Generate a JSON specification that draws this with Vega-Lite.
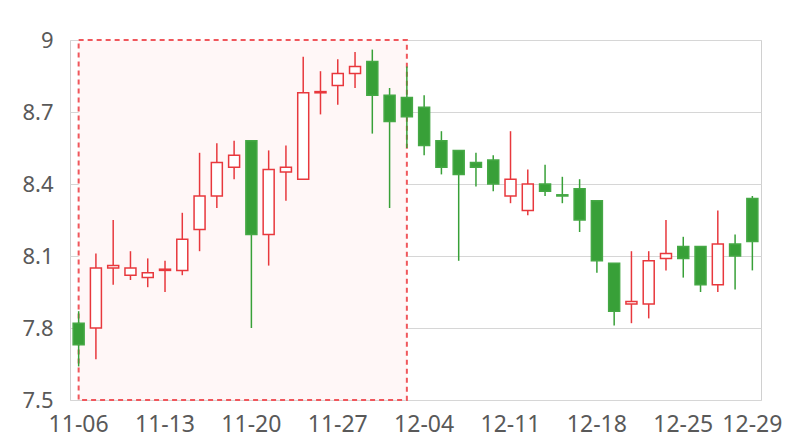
{
  "$schema": "https://vega.github.io/schema/vega-lite/v6.json",
  "autosize": {"type": "none"},
  "width": 691,
  "height": 360,
  "padding": {"left": 70, "top": 40, "right": 39, "bottom": 40},
  "background": "white",
  "config": {
    "view": {"stroke": "#d0d0d0", "strokeWidth": 1},
    "font": "Noto Sans",
    "axis": {"labelFont": "Noto Sans", "labelFontSize": 22, "labelColor": "#595959", "title": null, "ticks": false, "domain": false}
  },
  "datasets": {
    "candles": [
      {"date": "11-06", "open": 7.82, "close": 7.73, "high": 7.87, "low": 7.64},
      {"date": "11-07", "open": 7.80, "close": 8.05, "high": 8.11, "low": 7.67},
      {"date": "11-08", "open": 8.05, "close": 8.06, "high": 8.25, "low": 7.98},
      {"date": "11-09", "open": 8.02, "close": 8.05, "high": 8.12, "low": 8.00},
      {"date": "11-10", "open": 8.01, "close": 8.03, "high": 8.09, "low": 7.97},
      {"date": "11-13", "open": 8.04, "close": 8.045, "high": 8.08, "low": 7.95},
      {"date": "11-14", "open": 8.04, "close": 8.17, "high": 8.28, "low": 8.02},
      {"date": "11-15", "open": 8.21, "close": 8.35, "high": 8.53, "low": 8.12},
      {"date": "11-16", "open": 8.35, "close": 8.49, "high": 8.57, "low": 8.30},
      {"date": "11-17", "open": 8.47, "close": 8.52, "high": 8.58, "low": 8.42},
      {"date": "11-20", "open": 8.58, "close": 8.19, "high": 8.58, "low": 7.80},
      {"date": "11-21", "open": 8.19, "close": 8.46, "high": 8.54, "low": 8.06},
      {"date": "11-22", "open": 8.45, "close": 8.47, "high": 8.56, "low": 8.33},
      {"date": "11-23", "open": 8.42, "close": 8.78, "high": 8.93, "low": 8.42},
      {"date": "11-24", "open": 8.78, "close": 8.785, "high": 8.87, "low": 8.69},
      {"date": "11-27", "open": 8.81, "close": 8.86, "high": 8.92, "low": 8.73},
      {"date": "11-28", "open": 8.86, "close": 8.89, "high": 8.95, "low": 8.80},
      {"date": "11-29", "open": 8.91, "close": 8.77, "high": 8.96, "low": 8.61},
      {"date": "11-30", "open": 8.77, "close": 8.66, "high": 8.80, "low": 8.30},
      {"date": "12-01", "open": 8.76, "close": 8.68, "high": 8.89, "low": 8.55},
      {"date": "12-04", "open": 8.72, "close": 8.56, "high": 8.77, "low": 8.52},
      {"date": "12-05", "open": 8.58, "close": 8.47, "high": 8.62, "low": 8.44},
      {"date": "12-06", "open": 8.54, "close": 8.44, "high": 8.54, "low": 8.08},
      {"date": "12-07", "open": 8.49, "close": 8.47, "high": 8.53, "low": 8.39},
      {"date": "12-08", "open": 8.50, "close": 8.40, "high": 8.52, "low": 8.37},
      {"date": "12-11", "open": 8.35, "close": 8.42, "high": 8.62, "low": 8.32},
      {"date": "12-12", "open": 8.29, "close": 8.40, "high": 8.46, "low": 8.27},
      {"date": "12-13", "open": 8.40, "close": 8.37, "high": 8.48, "low": 8.35},
      {"date": "12-14", "open": 8.355, "close": 8.35, "high": 8.43, "low": 8.32},
      {"date": "12-15", "open": 8.38, "close": 8.25, "high": 8.42, "low": 8.20},
      {"date": "12-18", "open": 8.33, "close": 8.08, "high": 8.33, "low": 8.03},
      {"date": "12-19", "open": 8.07, "close": 7.87, "high": 8.07, "low": 7.81},
      {"date": "12-20", "open": 7.90, "close": 7.91, "high": 8.12, "low": 7.82},
      {"date": "12-21", "open": 7.90, "close": 8.08, "high": 8.12, "low": 7.84},
      {"date": "12-22", "open": 8.09, "close": 8.11, "high": 8.25, "low": 8.04},
      {"date": "12-25", "open": 8.14, "close": 8.09, "high": 8.18, "low": 8.01},
      {"date": "12-26", "open": 8.14, "close": 7.98, "high": 8.14, "low": 7.95},
      {"date": "12-27", "open": 7.98, "close": 8.15, "high": 8.29, "low": 7.95},
      {"date": "12-28", "open": 8.15, "close": 8.10, "high": 8.19, "low": 7.96},
      {"date": "12-29", "open": 8.34, "close": 8.16, "high": 8.35, "low": 8.04}
    ],
    "zone": [
      {"start": "11-06", "end": "12-01", "top": 9, "bottom": 7.5}
    ]
  },
  "data": {"name": "candles"},
  "encoding": {
    "x": {
      "field": "date",
      "type": "ordinal",
      "sort": null,
      "scale": {
        "type": "band",
        "paddingInner": 0,
        "paddingOuter": 0,
        "domain": ["11-06", "11-07", "11-08", "11-09", "11-10", "11-13", "11-14", "11-15", "11-16", "11-17", "11-20", "11-21", "11-22", "11-23", "11-24", "11-27", "11-28", "11-29", "11-30", "12-01", "12-04", "12-05", "12-06", "12-07", "12-08", "12-11", "12-12", "12-13", "12-14", "12-15", "12-18", "12-19", "12-20", "12-21", "12-22", "12-25", "12-26", "12-27", "12-28", "12-29"]
      },
      "axis": {
        "values": ["11-06", "11-13", "11-20", "11-27", "12-04", "12-11", "12-18", "12-25", "12-29"],
        "labelAngle": 0,
        "labelFontSize": 23,
        "labelPadding": 13,
        "grid": false
      }
    }
  },
  "layer": [
    {
      "data": {"name": "zone"},
      "mark": {"type": "rect", "fill": "#fff7f7", "stroke": "#f0575c", "strokeWidth": 2, "strokeDash": [5, 4]},
      "encoding": {
        "x": {"field": "start", "type": "ordinal", "bandPosition": 0.5},
        "x2": {"field": "end", "bandPosition": 0.5},
        "y": {"field": "top", "type": "quantitative"},
        "y2": {"field": "bottom"}
      }
    },
    {
      "mark": {"type": "rule", "strokeWidth": 1.5},
      "encoding": {
        "y": {
          "field": "low",
          "type": "quantitative",
          "scale": {"domain": [7.5, 9], "nice": false, "zero": false},
          "axis": {
            "values": [7.5, 7.8, 8.1, 8.4, 8.7, 9],
            "format": ".1~f",
            "labelPadding": 17,
            "grid": true,
            "gridColor": "#d6d6d6",
            "gridWidth": 1
          }
        },
        "y2": {"field": "high"},
        "color": {
          "condition": {"test": "datum.close >= datum.open", "value": "#e8383d"},
          "value": "#38a038"
        }
      }
    },
    {
      "mark": {"type": "bar", "width": 11, "strokeWidth": 1.5},
      "encoding": {
        "y": {"field": "open", "type": "quantitative"},
        "y2": {"field": "close"},
        "fill": {
          "condition": {"test": "datum.close >= datum.open", "value": "white"},
          "value": "#38a038"
        },
        "stroke": {
          "condition": {"test": "datum.close >= datum.open", "value": "#e8383d"},
          "value": "#45a845"
        }
      }
    }
  ]
}
